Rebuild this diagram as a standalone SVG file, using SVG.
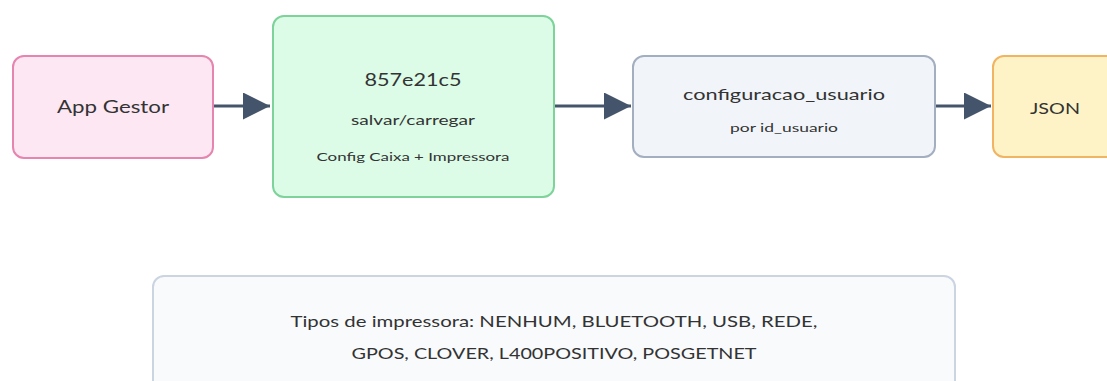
<svg xmlns="http://www.w3.org/2000/svg" width="1107" height="381" viewBox="0 0 1107 381">
<style>
text{font-family:"Lato","Noto Sans","Liberation Sans",sans-serif;fill:#333;text-anchor:middle}
.edge{stroke:#44546a;stroke-width:3;fill:none}
.box{stroke-width:2}
</style>
<defs>
<marker id="arr" viewBox="0 0 10 10" refX="10" refY="5" markerWidth="27" markerHeight="27" markerUnits="userSpaceOnUse" orient="auto">
<path d="M0,0 L10,5 L0,10 z" fill="#44546a"/>
</marker>
</defs>
<rect width="1107" height="381" fill="#fff"/>
<g id="connectors">
<line class="edge" x1="214" y1="106" x2="270" y2="106" marker-end="url(#arr)"/>
<line class="edge" x1="555" y1="106" x2="631" y2="106" marker-end="url(#arr)"/>
<line class="edge" x1="936" y1="106" x2="991" y2="106" marker-end="url(#arr)"/>
</g>
<g id="app">
<rect class="box" x="13" y="56" width="200" height="102" rx="11" fill="#fce7f3" stroke="#e585b0"/>
<text x="113" y="113" font-size="17" textLength="112" lengthAdjust="spacingAndGlyphs">App Gestor</text>
</g>
<g id="func">
<rect class="box" x="273" y="16" width="281" height="181" rx="11" fill="#dcfce7" stroke="#7dd39a"/>
<text x="413" y="86" font-size="17" textLength="97" lengthAdjust="spacingAndGlyphs">857e21c5</text>
<text x="413" y="125" font-size="14" textLength="124" lengthAdjust="spacingAndGlyphs">salvar/carregar</text>
<text x="413" y="161" font-size="12" textLength="193" lengthAdjust="spacingAndGlyphs">Config Caixa + Impressora</text>
</g>
<g id="table">
<rect class="box" x="633" y="56" width="302" height="101" rx="11" fill="#f1f5f9" stroke="#a3afc0"/>
<text x="784" y="100" font-size="16" textLength="202" lengthAdjust="spacingAndGlyphs">configuracao_usuario</text>
<text x="784" y="132" font-size="12" textLength="108" lengthAdjust="spacingAndGlyphs">por id_usuario</text>
</g>
<g id="json">
<rect class="box" x="993" y="56" width="130" height="101" rx="11" fill="#fef3c7" stroke="#f0b462"/>
<text x="1055" y="114" font-size="15" textLength="50" lengthAdjust="spacingAndGlyphs">JSON</text>
</g>
<g id="note">
<rect class="box" x="153" y="276" width="802" height="130" rx="11" fill="#f8fafc" stroke="#cbd5e1"/>
<text x="554" y="327" font-size="15" textLength="527" lengthAdjust="spacingAndGlyphs">Tipos de impressora: NENHUM, BLUETOOTH, USB, REDE,</text>
<text x="554" y="359" font-size="15" textLength="405" lengthAdjust="spacingAndGlyphs">GPOS, CLOVER, L400POSITIVO, POSGETNET</text>
</g>
</svg>
